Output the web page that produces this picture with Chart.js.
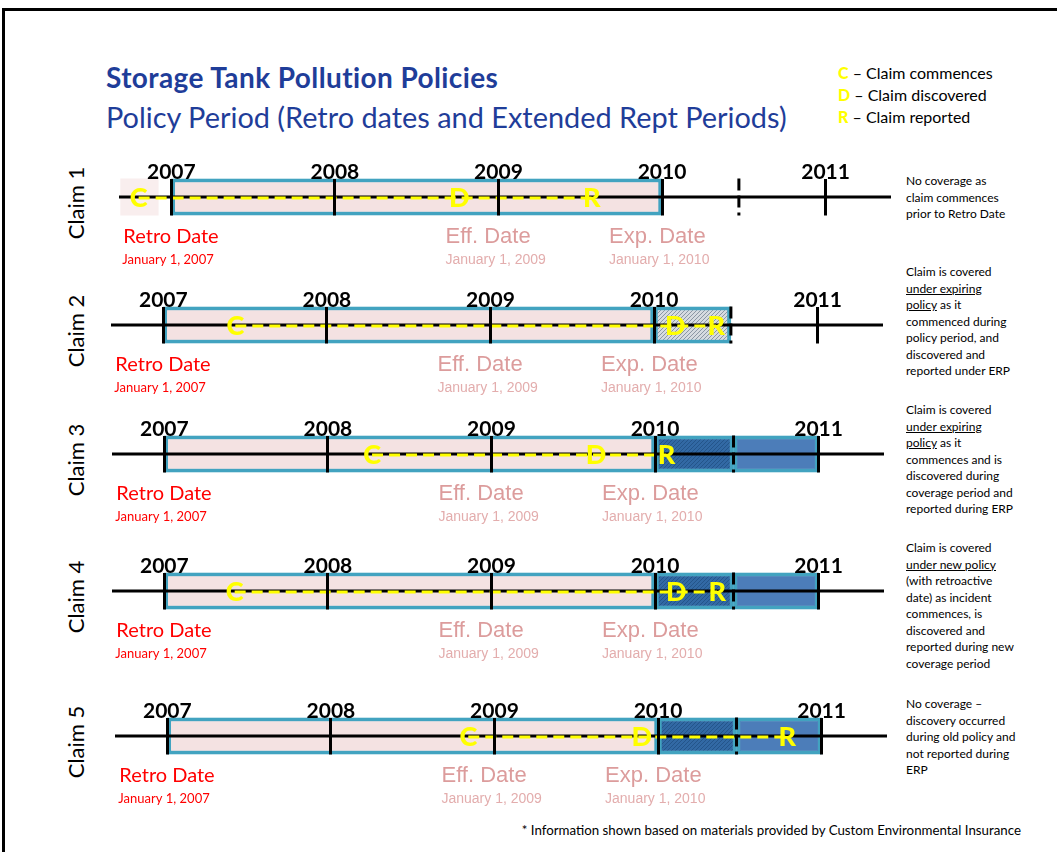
<!DOCTYPE html>
<html>
<head>
<meta charset="utf-8">
<script src="https://cdn.jsdelivr.net/npm/chart.js@4.4.1/dist/chart.umd.min.js"></script>
<style>
  body { margin: 0; width: 1057px; height: 852px; position: relative; background: #fff; overflow: hidden; font-family: Lato, "Open Sans", sans-serif; color: #000; }
  .frame { position: absolute; left: 2px; top: 8px; width: 1100px; height: 900px; border-top: 3px solid #000; border-left: 3px solid #000; }
  .title { position: absolute; left: 106px; top: 60px; font-size: 28px; letter-spacing: 0.4px; line-height: 34px; font-weight: 700; color: #1f3d99; white-space: nowrap; }
  .subtitle { position: absolute; left: 106px; top: 99px; font-size: 28.9px; line-height: 36px; color: #1f3d99; white-space: nowrap; }
  .legend { position: absolute; left: 838px; top: 62px; font-size: 16px; white-space: nowrap; }
  .legend div { height: 22px; line-height: 22px; }
  .legend b { color: #ffff00; font-weight: 900; font-size: 16px; }
  canvas.row { position: absolute; left: 0; }
  .claim { position: absolute; left: 75px; font-size: 22px; white-space: nowrap; transform: translate(-50%, -50%) rotate(-90deg); }
  .note { position: absolute; left: 906px; font-size: 12px; line-height: 16.5px; white-space: nowrap; }
  .footer { position: absolute; right: 36px; top: 822px; font-size: 13.3px; line-height: 16px; white-space: nowrap; }
</style>
</head>
<body>
<div class="frame"></div>
<div class="title">Storage Tank Pollution Policies</div>
<div class="subtitle">Policy Period (Retro dates and Extended Rept Periods)</div>
<div class="legend">
  <div><b>C</b> – Claim commences</div>
  <div><b>D</b> – Claim discovered</div>
  <div><b>R</b> – Claim reported</div>
</div>

<div class="note" style="top:173px">No coverage as<br>claim commences<br>prior to Retro Date</div>
<div class="note" style="top:264px">Claim is covered<br><u>under expiring</u><br><u>policy</u> as it<br>commenced during<br>policy period, and<br>discovered and<br>reported under ERP</div>
<div class="note" style="top:402px">Claim is covered<br><u>under expiring</u><br><u>policy</u> as it<br>commences and is<br>discovered during<br>coverage period and<br>reported during ERP</div>
<div class="note" style="top:540px">Claim is covered<br><u>under new policy</u><br>(with retroactive<br>date) as incident<br>commences, is<br>discovered and<br>reported during new<br>coverage period</div>
<div class="note" style="top:696px">No coverage –<br>discovery occurred<br>during old policy and<br>not reported during<br>ERP</div>

<div class="footer">* Information shown based on materials provided by Custom Environmental Insurance</div>

<script>
// timeline data (years)
const years = [2007, 2008, 2009, 2010, 2011];
const axisRange = [2006.68, 2011.40];
const claimNames = ["Claim 1", "Claim 2", "Claim 3", "Claim 4", "Claim 5"];
const commenced = [2006.80, 2007.44, 2008.27, 2007.43, 2008.84];
const discovered = [2008.76, 2010.13, 2009.64, 2010.13, 2009.90];
const reported = [2009.57, 2010.38, 2010.07, 2010.38, 2010.79];
const erpEnd = [2010.47, 2010.47, 2010.48, 2010.48, 2010.48];
const erpShown = [false, true, true, true, true];
const newPolicyShown = [false, false, true, true, true];
const policyPeriod = [2007, 2010];
const newPolicyEnd = 2011;
const preRetroShade = [2006.69, 2006.92]; // faint box behind C in claim 1
const markDates = [2007, 2009, 2010];
const markNames = ["Retro Date", "Eff. Date", "Exp. Date"];
const markSubs = ["January 1, 2007", "January 1, 2009", "January 1, 2010"];

// page layout of each row
const rowAxisY = [197, 325, 454, 591, 736];
const rowAxisLeft = [119, 111, 112, 112, 115];
const AXIS_W = 772;
const BOX_H = 37;

const PINK = "#f4e2e2";
const TEAL = "#42a3c0";
const BLUE = "#4c7db9";

function hatch(bg, fg) {
  const c = document.createElement("canvas");
  c.width = 4; c.height = 4;
  const g = c.getContext("2d");
  g.fillStyle = bg;
  g.fillRect(0, 0, 4, 4);
  g.fillStyle = fg;
  for (let i = 0; i < 4; i++) g.fillRect(i, 3 - i, 1, 1);
  return g.createPattern(c, "repeat");
}
const greyHatch = hatch("#d6dbe0", "#8b97a4");
const blueHatch = hatch("#3269a4", "#24558a");

// dashed tick marking the end of the extended reporting period
const erpTickPlugin = {
  id: "erpTick",
  afterDatasetsDraw(chart, args, opts) {
    const ctx = chart.ctx;
    const px = chart.scales.x.getPixelForValue(opts.value);
    ctx.save();
    ctx.strokeStyle = "#000";
    ctx.lineWidth = 3;
    ctx.setLineDash([12, 5]);
    ctx.beginPath();
    ctx.moveTo(px, chart.chartArea.top);
    ctx.lineTo(px, chart.chartArea.bottom);
    ctx.stroke();
    ctx.restore();
  }
};

// yellow C / D / R letters at the event points
const letterPlugin = {
  id: "letters",
  afterDraw(chart) {
    const ctx = chart.ctx;
    chart.data.datasets.forEach((ds, i) => {
      if (!ds.letters) return;
      const meta = chart.getDatasetMeta(i);
      ctx.save();
      ctx.font = "900 27px Lato";
      ctx.fillStyle = "#ffff00";
      ctx.textAlign = "center";
      ctx.textBaseline = "middle";
      meta.data.forEach((pt, j) => ctx.fillText(ds.letters[j], pt.x, pt.y + 1));
      ctx.restore();
    });
  }
};

// year labels above, Retro / Eff. / Exp. captions below
const datePlugin = {
  id: "dateLabels",
  afterDraw(chart) {
    const ctx = chart.ctx;
    const xs = chart.scales.x;
    const axisY = (chart.chartArea.top + chart.chartArea.bottom) / 2;
    ctx.save();
    ctx.textBaseline = "middle";
    ctx.textAlign = "center";
    ctx.fillStyle = "#000";
    ctx.font = "bold 21px Lato";
    years.forEach((y) => ctx.fillText(String(y), xs.getPixelForValue(y), axisY - 25));
    ctx.textAlign = "left";
    markDates.forEach((d, i) => {
      const px = xs.getPixelForValue(d);
      if (i === 0) {
        ctx.fillStyle = "#ff0000";
        ctx.font = "20px Lato";
        ctx.fillText(markNames[i], px - 48, axisY + 40);
        ctx.font = "13px Lato";
        ctx.fillText(markSubs[i], px - 49, axisY + 63);
      } else {
        ctx.fillStyle = "#dc9c9c";
        ctx.font = "22px 'Liberation Sans', Arial, sans-serif";
        ctx.fillText(markNames[i], px - 53, axisY + 40);
        ctx.fillStyle = "#e3adad";
        ctx.font = "14px 'Liberation Sans', Arial, sans-serif";
        ctx.fillText(markSubs[i], px - 53, axisY + 63);
      }
    });
    ctx.restore();
  }
};

claimNames.forEach((name, r) => {
  const axisY = rowAxisY[r];
  const top = axisY - 50;
  const H = 130;

  const lbl = document.createElement("div");
  lbl.className = "claim";
  lbl.style.top = (axisY + 6) + "px";
  lbl.textContent = name;
  document.body.appendChild(lbl);

  const cv = document.createElement("canvas");
  cv.className = "row";
  cv.style.top = top + "px";
  cv.width = 1057;
  cv.height = H;
  document.body.appendChild(cv);

  // policy boxes
  const boxes = [{ x: policyPeriod, y: 0 }];
  const boxColors = [PINK];
  if (erpShown[r]) {
    boxes.push({ x: [policyPeriod[1], erpEnd[r]], y: 0 });
    boxColors.push(newPolicyShown[r] ? blueHatch : greyHatch);
  }
  if (newPolicyShown[r]) {
    boxes.push({ x: [erpEnd[r], newPolicyEnd], y: 0 });
    boxColors.push(BLUE);
  }

  const datasets = [
    {
      type: "line",
      data: [{ x: commenced[r], y: 0 }, { x: discovered[r], y: 0 }, { x: reported[r], y: 0 }],
      letters: ["C", "D", "R"],
      showLine: false,
      pointRadius: 0,
      order: 0
    },
    {
      type: "line",
      data: [{ x: commenced[r], y: -0.12 }, { x: reported[r], y: -0.12 }],
      borderColor: "#ffff00",
      borderWidth: 3,
      borderDash: [11, 6],
      pointRadius: 0,
      order: 1
    },
    {
      type: "line",
      data: [{ x: axisRange[0], y: 0 }, { x: axisRange[1], y: 0 }],
      borderColor: "#000",
      borderWidth: 3,
      pointRadius: 0,
      order: 3
    },
    {
      type: "bar",
      indexAxis: "y",
      stack: "row",
      data: boxes,
      backgroundColor: boxColors,
      borderColor: TEAL,
      borderWidth: 4,
      borderSkipped: false,
      barThickness: BOX_H,
      order: 4
    }
  ];
  if (commenced[r] < policyPeriod[0]) {
    datasets.push({
      type: "bar",
      indexAxis: "y",
      stack: "row",
      data: [{ x: preRetroShade, y: 0 }],
      backgroundColor: "#f9eeee",
      borderWidth: 0,
      barThickness: 45,
      order: 5
    });
  }

  new Chart(cv.getContext("2d"), {
    type: "scatter",
    data: { datasets: datasets },
    options: {
      responsive: false,
      animation: false,
      events: [],
      layout: {
        padding: {
          left: rowAxisLeft[r],
          right: 1057 - rowAxisLeft[r] - AXIS_W,
          top: 50 - BOX_H / 2,
          bottom: H - 50 - BOX_H / 2
        }
      },
      plugins: {
        legend: { display: false },
        tooltip: { enabled: false },
        erpTick: { value: erpEnd[r] }
      },
      scales: {
        x: {
          type: "linear",
          position: "top",
          min: axisRange[0],
          max: axisRange[1],
          stacked: false,
          offset: false,
          afterBuildTicks: (s) => { s.ticks = years.map((v) => ({ value: v })); },
          grid: { color: "#000", lineWidth: 3, drawTicks: false, offset: false, z: 1 },
          border: { display: false },
          ticks: { display: false }
        },
        y: { type: "linear", min: -1, max: 1, display: false }
      }
    },
    plugins: [erpTickPlugin, letterPlugin, datePlugin]
  });
});
</script>
</body>
</html>
